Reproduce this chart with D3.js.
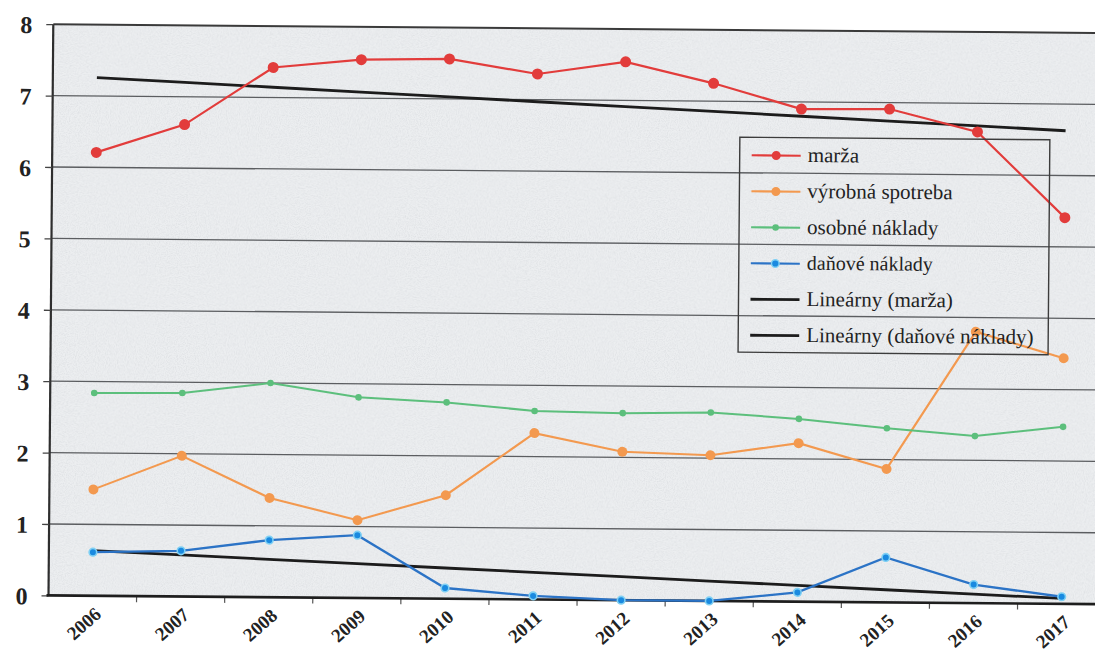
<!DOCTYPE html>
<html>
<head>
<meta charset="utf-8">
<script src="https://cdn.jsdelivr.net/npm/d3@7"></script>
<style>
  html, body { margin: 0; padding: 0; background: #fff; }
  svg { display: block; }
</style>
</head>
<body>
<div id="chart"></div>
<script>
// data
const years = ['2006', '2007', '2008', '2009', '2010', '2011', '2012', '2013', '2014', '2015', '2016', '2017'];
const marza = [6.21, 6.61, 7.42, 7.54, 7.56, 7.36, 7.54, 7.25, 6.90, 6.91, 6.60, 5.41];
const vyrobnaSpotreba = [1.49, 1.97, 1.39, 1.09, 1.45, 2.33, 2.08, 2.04, 2.22, 1.87, 3.80, 3.44];
const osobneNaklady = [2.84, 2.85, 3.00, 2.81, 2.75, 2.64, 2.62, 2.64, 2.56, 2.44, 2.34, 2.48];
const danoveNaklady = [0.61, 0.64, 0.80, 0.88, 0.15, 0.05, 0.00, 0.00, 0.13, 0.63, 0.26, 0.10];
const yTicks = [0, 1, 2, 3, 4, 5, 6, 7, 8];
const legendLabels = ['marža', 'výrobná spotreba', 'osobné náklady', 'daňové náklady', 'Lineárny (marža)', 'Lineárny (daňové náklady)'];

const width = 1095, height = 657;
const plotLeft = 48.5, plotTop = 24.3, plotBottom = 595.5, step = 88.1;
const serif = '"Liberation Serif", "Times New Roman", serif';

const svg = d3.select('#chart').append('svg').attr('width', width).attr('height', height);

// scanner noise
const defs = svg.append('defs');
const noise = defs.append('filter').attr('id', 'noise').attr('x', 0).attr('y', 0).attr('width', '100%').attr('height', '100%');
noise.append('feTurbulence').attr('type', 'fractalNoise').attr('baseFrequency', 0.9).attr('numOctaves', 2).attr('seed', 4);
noise.append('feColorMatrix').attr('type', 'matrix')
  .attr('values', '0 0 0 0 0.6  0 0 0 0 0.62  0 0 0 0 0.65  0 0 0 -1.8 1.1');

const x = d3.scaleBand().domain(years).range([plotLeft, plotLeft + step * years.length]);
const y = d3.scaleLinear().domain([0, 8]).range([plotBottom, plotTop]);
const cx = d => x(d) + x.bandwidth() / 2;
const plotRight = x.range()[1];

// the page was scanned slightly tilted
const g = svg.append('g').attr('transform', `rotate(0.48, 60, ${plotBottom})`);

// plot area
g.append('rect')
  .attr('x', plotLeft).attr('y', plotTop)
  .attr('width', plotRight - plotLeft).attr('height', plotBottom - plotTop)
  .attr('fill', '#eceef0');
g.append('rect')
  .attr('x', plotLeft).attr('y', plotTop)
  .attr('width', plotRight - plotLeft).attr('height', plotBottom - plotTop)
  .attr('filter', 'url(#noise)').attr('opacity', 0.5);

// grid lines
g.selectAll('line.grid').data(yTicks.filter(d => d > 0 && d < 8)).enter()
  .append('line').classed('grid', true)
  .attr('x1', plotLeft).attr('x2', plotRight)
  .attr('y1', d => y(d)).attr('y2', d => y(d))
  .attr('stroke', '#5b5d60').attr('stroke-width', 1.3);

// borders
g.append('line').attr('x1', plotLeft).attr('x2', plotRight).attr('y1', plotTop).attr('y2', plotTop)
  .attr('stroke', '#3a3a3a').attr('stroke-width', 2);
g.append('line').attr('x1', plotLeft).attr('x2', plotLeft).attr('y1', plotTop).attr('y2', plotBottom)
  .attr('stroke', '#2e2e2e').attr('stroke-width', 2.2);

// y axis
const yAxis = d3.axisLeft(y).tickValues(yTicks).tickSize(7).tickPadding(14).tickFormat(d3.format('d'));
const yg = g.append('g').attr('transform', `translate(${plotLeft},0)`).call(yAxis);
yg.select('.domain').remove();
yg.selectAll('.tick line').attr('stroke', '#444').attr('stroke-width', 1.3);
yg.selectAll('.tick text')
  .attr('font-family', serif).attr('font-weight', 'bold').attr('font-size', 24)
  .attr('fill', '#222').attr('dy', '0.36em');

// x axis
const xAxis = d3.axisBottom(x).tickSize(0).tickPadding(0);
const xg = g.append('g').attr('transform', `translate(0,${plotBottom})`).call(xAxis);
xg.select('.domain').remove();
xg.selectAll('.tick text')
  .attr('font-family', serif).attr('font-weight', 'bold').attr('font-size', 19)
  .attr('fill', '#222')
  .attr('text-anchor', 'end')
  .attr('dy', 0)
  .attr('transform', 'translate(10,20) rotate(-42)');
xg.selectAll('line.sep').data(years).enter()
  .append('line').classed('sep', true)
  .attr('x1', d => x(d) + x.bandwidth()).attr('x2', d => x(d) + x.bandwidth())
  .attr('y1', 0).attr('y2', 6)
  .attr('stroke', '#555').attr('stroke-width', 1.2);
g.append('line').attr('x1', plotLeft - 2).attr('x2', plotRight).attr('y1', plotBottom).attr('y2', plotBottom)
  .attr('stroke', '#1e1e1e').attr('stroke-width', 2.6);

// linear trend (least squares over the category index)
const trend = values => {
  const n = values.length;
  const mx = (n - 1) / 2, my = d3.mean(values);
  const slope = d3.sum(values, (v, i) => (i - mx) * (v - my)) / d3.sum(values, (v, i) => (i - mx) * (i - mx));
  return values.map((v, i) => my + slope * (i - mx));
};

const series = [
  { name: legendLabels[0], values: marza, color: '#e23c3b', width: 2.2, r: 5.5, halo: null },
  { name: legendLabels[1], values: vyrobnaSpotreba, color: '#f3994f', width: 2.1, r: 5, halo: null },
  { name: legendLabels[2], values: osobneNaklady, color: '#5cbf7c', width: 2, r: 3.3, halo: null },
  { name: legendLabels[3], values: danoveNaklady, color: '#2b73c6', width: 2.3, r: 3.8, halo: '#7fd0f4' }
];

const line = d3.line().x((d, i) => cx(years[i])).y(d => y(d));

// trend lines
[marza, danoveNaklady].forEach(vals => {
  g.append('path').datum(trend(vals))
    .attr('d', line).attr('fill', 'none')
    .attr('stroke', '#1c1c1c').attr('stroke-width', 2.8);
});

series.forEach(s => {
  g.append('path').datum(s.values)
    .attr('d', line).attr('fill', 'none')
    .attr('stroke', s.color).attr('stroke-width', s.width);
  g.selectAll(null).data(s.values).enter()
    .append('circle')
    .attr('cx', (d, i) => cx(years[i])).attr('cy', d => y(d))
    .attr('r', s.r)
    .attr('fill', s.halo ? '#1a8ae0' : s.color)
    .attr('stroke', s.halo || 'none').attr('stroke-width', s.halo ? 1.6 : 0);
});

// legend
const lx = 736, ly = 131.5, lw = 310, lh = 215;
const legend = g.append('g').attr('transform', `translate(${lx},${ly})`);
legend.append('rect').attr('width', lw).attr('height', lh)
  .attr('fill', 'none').attr('stroke', '#3c3c3c').attr('stroke-width', 1.4);

const legendItems = legendLabels.map((name, i) => {
  const s = series[i];
  return {
    name,
    color: s ? s.color : '#1c1c1c',
    r: s ? Math.min(s.r, 4.5) : 0,
    halo: s ? s.halo : null,
    size: i === 3 ? 20 : 21
  };
});

const rows = legend.selectAll('g.item').data(legendItems).enter()
  .append('g').classed('item', true)
  .attr('transform', (d, i) => `translate(0,${18 + 36 * i})`);
rows.append('line')
  .attr('x1', 12).attr('x2', 61).attr('y1', 0).attr('y2', 0)
  .attr('stroke', d => d.color).attr('stroke-width', (d, i) => i > 3 ? 2.8 : 2.1);
rows.filter(d => d.r > 0).append('circle')
  .attr('cx', 36.5).attr('cy', 0).attr('r', d => d.r)
  .attr('fill', d => d.halo ? '#1a8ae0' : d.color)
  .attr('stroke', d => d.halo || 'none').attr('stroke-width', 1.4);
rows.append('text')
  .text(d => d.name)
  .attr('x', 68).attr('y', 0).attr('dy', '0.3em')
  .attr('font-family', serif).attr('font-size', d => d.size)
  .attr('fill', '#222');
</script>
</body>
</html>
